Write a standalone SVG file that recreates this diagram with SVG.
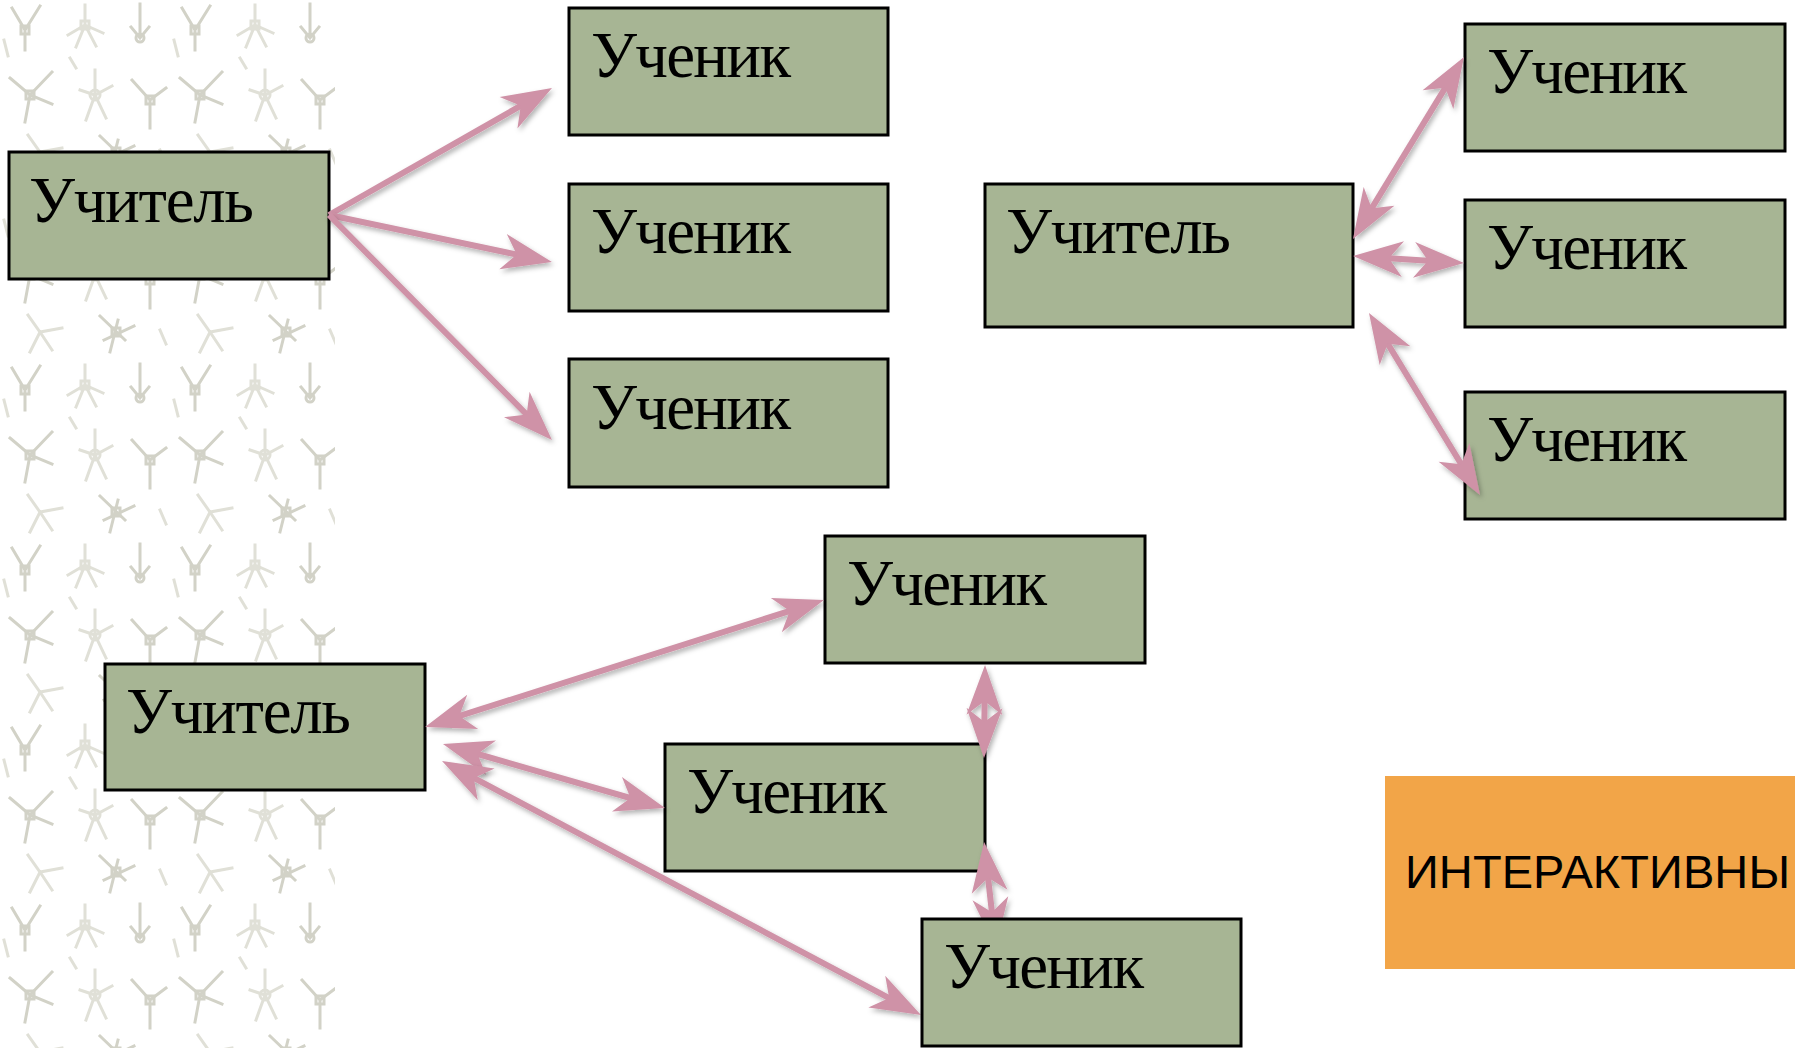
<svg xmlns="http://www.w3.org/2000/svg" width="1795" height="1048" viewBox="0 0 1795 1048">
  <style>
    .node rect { fill: #a7b594; stroke: #000; stroke-width: 3; }
    .lbl { font-family: "Liberation Serif", "Times New Roman", serif; font-size: 65px; fill: #000; }
    .conn line { stroke: #cf92a7; stroke-width: 6; fill: none; filter: url(#shadow); }
    .one { marker-end: url(#head); }
    .two { marker-start: url(#head); marker-end: url(#head); }
    .fig { stroke: #d2d2c7; stroke-width: 3; fill: none; stroke-linecap: square; }
    .fig2 { stroke: #e0e0d7; stroke-width: 3; fill: none; stroke-linecap: square; }
  </style>
  <defs>
    <filter id="shadow" filterUnits="userSpaceOnUse" x="0" y="0" width="1795" height="1048">
      <feDropShadow dx="2" dy="3" stdDeviation="2.5" flood-color="#000" flood-opacity="0.3"/>
    </filter>
    <marker id="head" markerUnits="userSpaceOnUse" orient="auto-start-reverse" refX="0" refY="0" markerWidth="60" markerHeight="40" viewBox="-32 -20 60 40" overflow="visible">
      <path d="M20,0 L-30,-18 L-16,0 L-30,18 Z" fill="#cf92a7"/>
    </marker>
    <pattern id="bgfig" patternUnits="userSpaceOnUse" width="170" height="180">
      <g class="fig">
        <path d="M12,8 L25,30 L40,6 M25,30 L25,50"/>
        <rect x="21" y="26" width="8" height="8"/>
        <path d="M140,4 L140,34 M131,27 L140,38 L149,27"/>
        <circle cx="140" cy="38" r="4"/>
        <path d="M10,78 L30,95 L52,72 M30,95 L25,122 M30,95 L52,104"/>
        <rect x="26" y="91" width="8" height="8"/>
        <path d="M132,80 L150,100 L166,88 M150,100 L150,128"/>
        <rect x="146" y="96" width="8" height="8"/>
        <path d="M100,136 L125,160 M118,140 L110,172 M104,160 L134,146"/>
        <rect x="112" y="148" width="8" height="8"/>
      </g>
      <g class="fig2">
        <path d="M85,5 L85,25 L68,35 M85,25 L103,33 M85,25 L76,47 M85,25 L96,46"/>
        <rect x="81" y="21" width="8" height="8"/>
        <path d="M95,70 L95,95 M80,90 L95,95 L112,86 M95,95 L86,120 M95,95 L106,118"/>
        <circle cx="95" cy="95" r="5"/>
        <path d="M28,135 L40,152 L62,148 M40,152 L30,172 M40,152 L52,170"/>
        <path d="M160,150 L166,164 M70,58 L76,68 M4,40 L8,56"/>
      </g>
    </pattern>
  </defs>

  <rect x="0" y="0" width="1795" height="1048" fill="#ffffff"/>
  <rect x="0" y="0" width="335" height="1048" fill="url(#bgfig)"/>

  <g id="teacher1" class="node">
    <rect x="9" y="152" width="320" height="127"/>
    <text class="lbl" x="29" y="222" textLength="225">Учитель</text>
  </g>
  <g id="student-a1" class="node">
    <rect x="569" y="8" width="319" height="127"/>
    <text class="lbl" x="591" y="77" textLength="200">Ученик</text>
  </g>
  <g id="student-a2" class="node">
    <rect x="569" y="184" width="319" height="127"/>
    <text class="lbl" x="591" y="253" textLength="200">Ученик</text>
  </g>
  <g id="student-a3" class="node">
    <rect x="569" y="359" width="319" height="128"/>
    <text class="lbl" x="591" y="429" textLength="200">Ученик</text>
  </g>

  <g id="teacher2" class="node">
    <rect x="985" y="184" width="368" height="143"/>
    <text class="lbl" x="1006" y="253" textLength="225">Учитель</text>
  </g>
  <g id="student-b1" class="node">
    <rect x="1465" y="24" width="320" height="127"/>
    <text class="lbl" x="1487" y="93" textLength="200">Ученик</text>
  </g>
  <g id="student-b2" class="node">
    <rect x="1465" y="200" width="320" height="127"/>
    <text class="lbl" x="1487" y="269" textLength="200">Ученик</text>
  </g>
  <g id="student-b3" class="node">
    <rect x="1465" y="392" width="320" height="127"/>
    <text class="lbl" x="1487" y="461" textLength="200">Ученик</text>
  </g>

  <g id="student-c1" class="node">
    <rect x="825" y="536" width="320" height="127"/>
    <text class="lbl" x="847" y="605" textLength="200">Ученик</text>
  </g>
  <g id="teacher3" class="node">
    <rect x="105" y="664" width="320" height="126"/>
    <text class="lbl" x="126" y="733" textLength="225">Учитель</text>
  </g>
  <g id="student-c2" class="node">
    <rect x="665" y="744" width="320" height="127"/>
    <text class="lbl" x="687" y="813" textLength="200">Ученик</text>
  </g>

  <g id="connectors" class="conn">
    <line class="one" x1="329" y1="215" x2="534.6" y2="97.9"/>
    <line class="one" x1="329" y1="215" x2="532.4" y2="257.9"/>
    <line class="one" x1="329" y1="215" x2="537.9" y2="425.8"/>

    <line class="two" x1="1363.4" y1="221.9" x2="1453.6" y2="74.1"/>
    <line class="two" x1="1373" y1="257.3" x2="1444" y2="261.7"/>
    <line class="two" x1="1379.4" y1="330.1" x2="1469.6" y2="477.9"/>

    <line class="two" x1="444.1" y1="720.9" x2="804.9" y2="606.1"/>
    <line class="two" x1="462.2" y1="749.5" x2="645.8" y2="802.5"/>
    <line class="two" x1="459.7" y1="770.4" x2="903.3" y2="1005.6"/>

    <line class="two" x1="984.8" y1="685" x2="984.2" y2="738"/>
    <line class="two" x1="986.3" y1="861.9" x2="993.7" y2="928.1"/>
  </g>

  <g id="student-c3" class="node">
    <rect x="922" y="919" width="319" height="127"/>
    <text class="lbl" x="944" y="988" textLength="200">Ученик</text>
  </g>

  <g id="interactive-label">
    <rect x="1385" y="776" width="410" height="193" fill="#f2a548"/>
    <text x="1405" y="888" font-family="Liberation Sans, Arial, sans-serif" font-size="47" fill="#000" textLength="385">ИНТЕРАКТИВНЫ</text>
  </g>
</svg>
